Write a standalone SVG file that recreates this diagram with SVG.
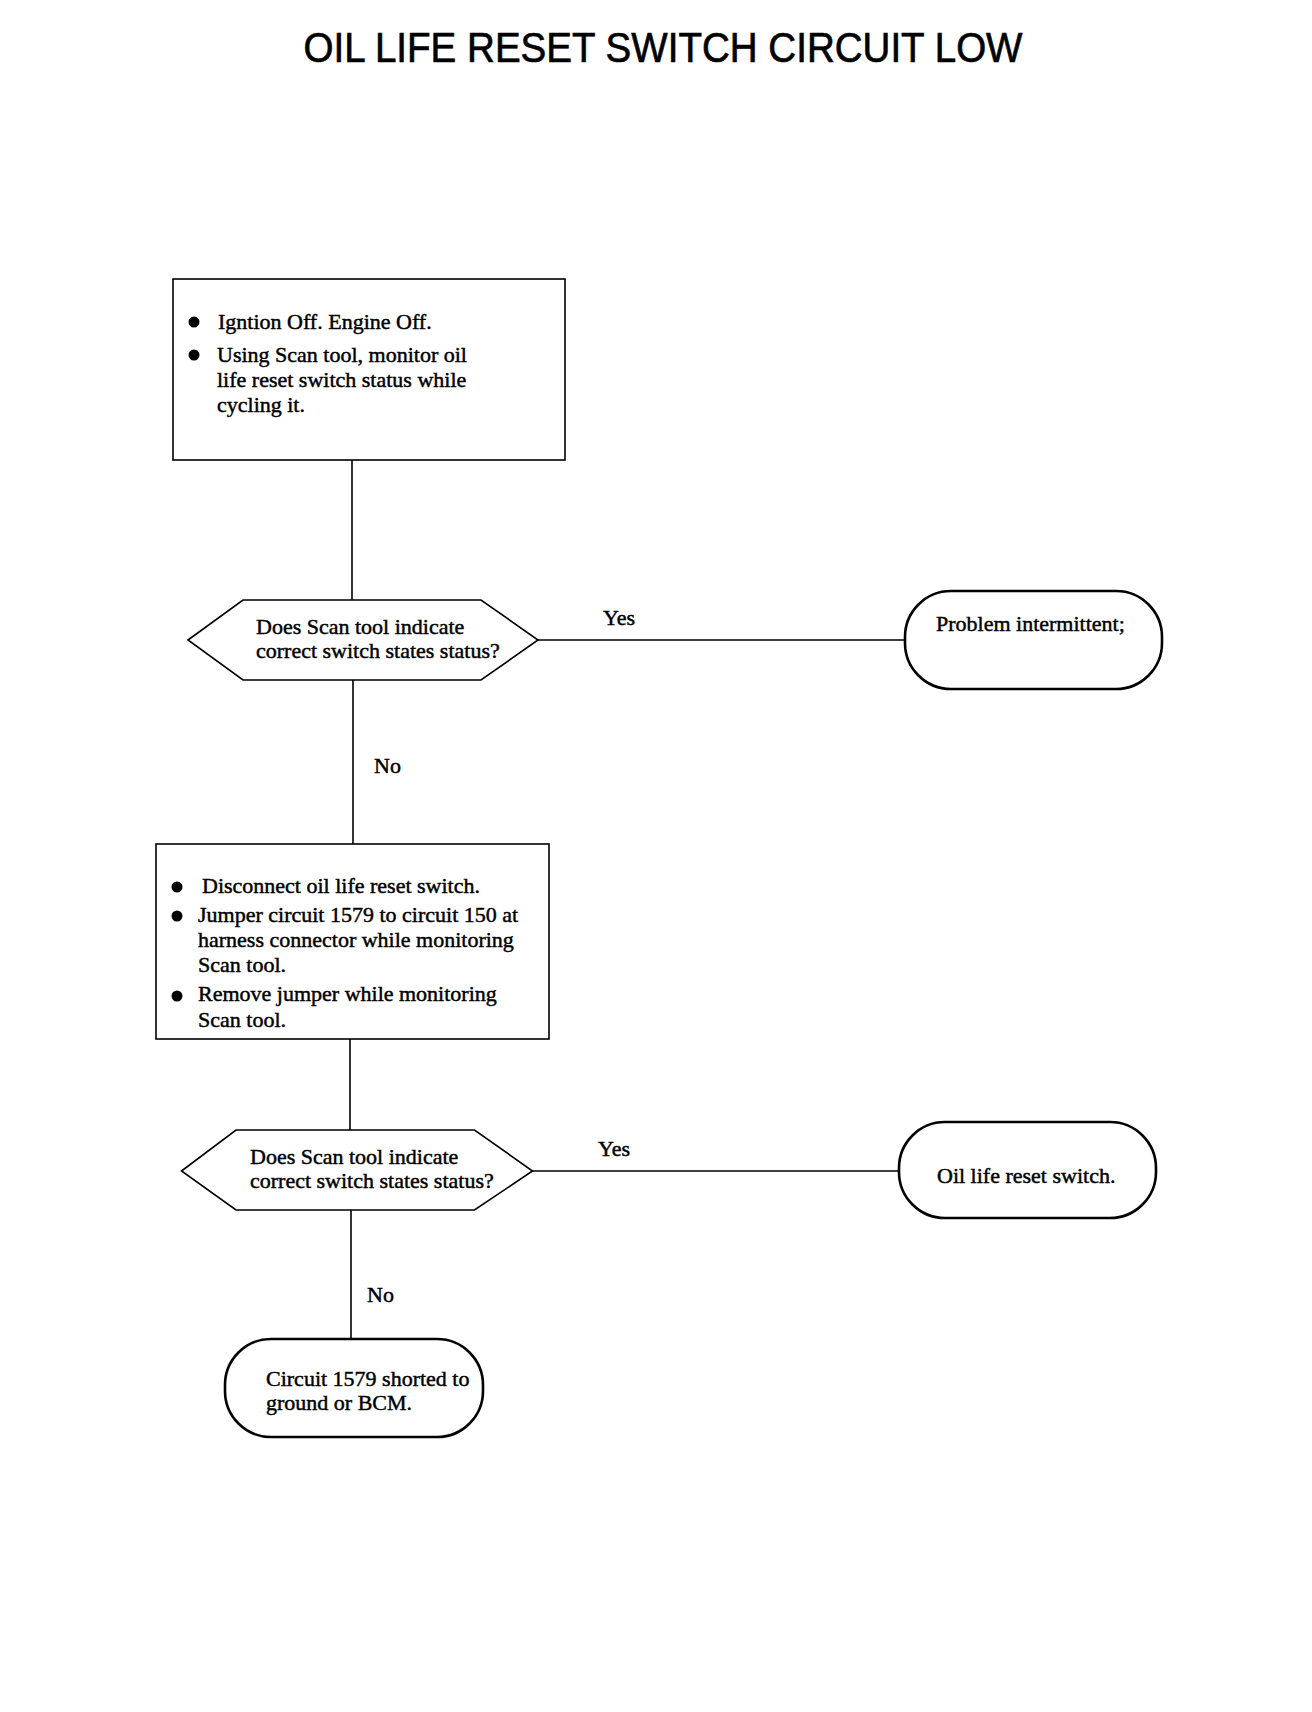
<svg xmlns="http://www.w3.org/2000/svg" width="1312" height="1712" viewBox="0 0 1312 1712">
<style>
.t{font-family:"Liberation Serif","Times New Roman",serif;font-size:22px;fill:#000;stroke:#000;stroke-width:0.45}
.title{font-family:"Liberation Sans",Arial,sans-serif;font-size:43px;fill:#000;stroke:#000;stroke-width:0.7}
.box{fill:#fff;stroke:#000;stroke-width:1.6}
.dia{fill:#fff;stroke:#000;stroke-width:1.6}
.term{fill:#fff;stroke:#000;stroke-width:2.6}
.line{fill:none;stroke:#000;stroke-width:1.6}
</style>
<rect width="1312" height="1712" fill="#fff"/>
<text class="title" x="663" y="62" text-anchor="middle" textLength="719" lengthAdjust="spacingAndGlyphs">OIL LIFE RESET SWITCH CIRCUIT LOW</text>
<g id="connectors">
<line class="line" x1="352" y1="460" x2="352" y2="600"/>
<line class="line" x1="538" y1="640" x2="905" y2="640"/>
<line class="line" x1="353" y1="680" x2="353" y2="844"/>
<line class="line" x1="350" y1="1039" x2="350" y2="1130"/>
<line class="line" x1="532" y1="1171" x2="899" y2="1171"/>
<line class="line" x1="351" y1="1210" x2="351" y2="1339"/>
<text class="t" x="603" y="625">Yes</text>
<text class="t" x="374" y="773">No</text>
<text class="t" x="598" y="1156">Yes</text>
<text class="t" x="367" y="1302">No</text>
</g>
<g id="step1">
<rect class="box" x="173" y="279" width="392" height="181"/>
<circle cx="194" cy="322" r="5.5"/>
<circle cx="194" cy="355" r="5.5"/>
<text class="t" x="218" y="329">Igntion Off. Engine Off.</text>
<text class="t" x="217" y="362">Using Scan tool, monitor oil</text>
<text class="t" x="217" y="387">life reset switch status while</text>
<text class="t" x="217" y="412">cycling it.</text>
</g>
<g id="decision1">
<polygon class="dia" points="188,640 243,600 481,600 538,640 481,680 243,680"/>
<text class="t" x="256" y="634">Does Scan tool indicate</text>
<text class="t" x="256" y="658">correct switch states status?</text>
</g>
<g id="result1">
<rect class="term" x="905" y="591" width="257" height="98" rx="46" ry="46"/>
<text class="t" x="936" y="631">Problem intermittent;</text>
</g>
<g id="step2">
<rect class="box" x="156" y="844" width="393" height="195"/>
<circle cx="177" cy="887" r="5.5"/>
<circle cx="177" cy="916" r="5.5"/>
<circle cx="177" cy="996" r="5.5"/>
<text class="t" x="202" y="893">Disconnect oil life reset switch.</text>
<text class="t" x="198" y="922">Jumper circuit 1579 to circuit 150 at</text>
<text class="t" x="198" y="947">harness connector while monitoring</text>
<text class="t" x="198" y="972">Scan tool.</text>
<text class="t" x="198" y="1001">Remove jumper while monitoring</text>
<text class="t" x="198" y="1027">Scan tool.</text>
</g>
<g id="decision2">
<polygon class="dia" points="181.5,1171 236,1130 474.5,1130 532.5,1171 474.5,1210 236,1210"/>
<text class="t" x="250" y="1164">Does Scan tool indicate</text>
<text class="t" x="250" y="1188">correct switch states status?</text>
</g>
<g id="result2">
<rect class="term" x="899" y="1122" width="257" height="96" rx="46" ry="46"/>
<text class="t" x="937" y="1183">Oil life reset switch.</text>
</g>
<g id="result3">
<rect class="term" x="225" y="1339" width="258" height="98" rx="46" ry="46"/>
<text class="t" x="266" y="1386">Circuit 1579 shorted to</text>
<text class="t" x="266" y="1410">ground or BCM.</text>
</g>
</svg>
